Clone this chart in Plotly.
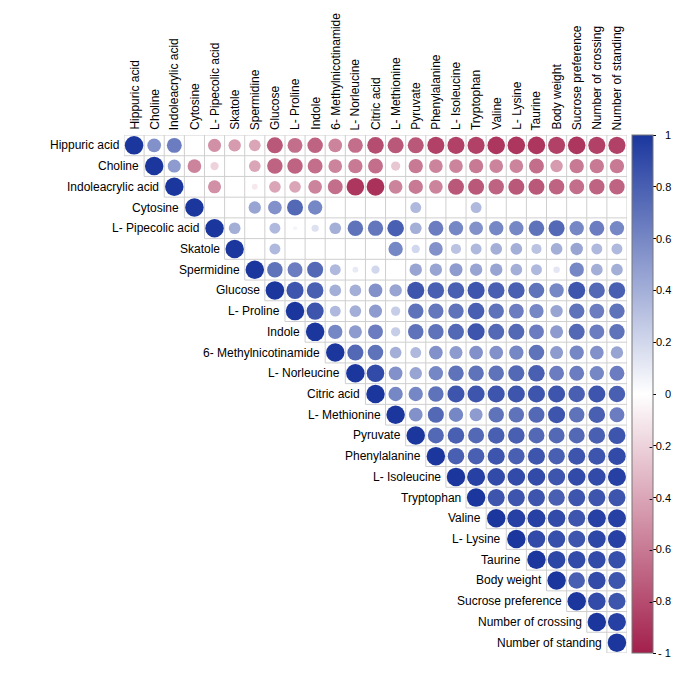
import plotly.graph_objects as go
import math

labels = ["Hippuric acid", "Choline", "Indoleacrylic acid", "Cytosine", "L- Pipecolic acid",
          "Skatole", "Spermidine", "Glucose", "L- Proline", "Indole",
          "6- Methylnicotinamide", "L- Norleucine", "Citric acid", "L- Methionine", "Pyruvate",
          "Phenylalanine", "L- Isoleucine", "Tryptophan", "Valine", "L- Lysine",
          "Taurine", "Body weight", "Sucrose preference", "Number of crossing", "Number of standing"]

N = None
# upper-triangle correlations, row i lists columns i..24 (None = not significant / blank)
r00 = [1, 0.55, 0.65, N, -0.5, -0.45, -0.4, -0.75, -0.65, -0.7, -0.55, -0.65, -0.8, -0.75, -0.75, -0.85, -0.85, -0.85, -0.9, -0.9, -0.9, -0.85, -0.9, -0.85, -0.85]
r01 = [1, 0.5, -0.55, -0.2, N, -0.4, -0.7, -0.7, -0.65, -0.55, -0.6, -0.65, -0.25, -0.6, -0.55, -0.55, -0.6, -0.55, -0.55, -0.65, -0.45, -0.6, -0.6, -0.6]
r02 = [1, N, -0.5, N, -0.1, -0.4, -0.4, -0.55, -0.65, -0.9, -0.92, -0.55, -0.6, -0.55, -0.75, -0.75, -0.7, -0.75, -0.75, -0.7, -0.65, -0.7, -0.7]
r03 = [1, N, N, 0.45, 0.55, 0.75, 0.6, N, N, N, N, 0.35, N, N, 0.35, N, N, N, N, N, N, N]
r04 = [1, 0.4, N, 0.35, 0.05, 0.15, 0.4, 0.7, 0.68, 0.8, 0.4, 0.65, 0.6, 0.55, 0.6, 0.6, 0.7, 0.75, 0.6, 0.65, 0.6]
r05 = [1, N, 0.35, N, N, N, N, N, 0.6, 0.2, 0.55, 0.3, 0.35, 0.4, 0.4, 0.3, 0.4, 0.45, 0.35, 0.35]
r06 = [1, 0.7, 0.65, 0.75, 0.35, 0.1, 0.2, N, 0.45, 0.45, 0.5, 0.45, 0.45, 0.4, 0.35, 0.12, 0.6, 0.4, 0.4]
r07 = [1, 0.85, 0.8, 0.4, 0.4, 0.55, 0.45, 0.85, 0.8, 0.8, 0.85, 0.8, 0.8, 0.7, 0.6, 0.85, 0.75, 0.8]
r08 = [1, 0.85, 0.35, 0.4, 0.5, 0.25, 0.7, 0.68, 0.7, 0.8, 0.7, 0.65, 0.6, 0.45, 0.7, 0.65, 0.7]
r09 = [1, 0.6, 0.5, 0.65, 0.25, 0.7, 0.7, 0.75, 0.85, 0.75, 0.75, 0.65, 0.5, 0.75, 0.65, 0.7]
r10 = [1, 0.75, 0.7, 0.4, 0.35, 0.55, 0.5, 0.55, 0.55, 0.6, 0.7, 0.5, 0.6, 0.55, 0.45]
r11 = [1, 0.9, 0.55, 0.45, 0.6, 0.7, 0.7, 0.7, 0.75, 0.8, 0.65, 0.65, 0.6, 0.65]
r12 = [1, 0.6, 0.6, 0.7, 0.85, 0.85, 0.85, 0.85, 0.85, 0.85, 0.8, 0.85, 0.8]
r13 = [1, 0.55, 0.75, 0.6, 0.5, 0.7, 0.7, 0.75, 0.85, 0.7, 0.8, 0.65]
r14 = [1, 0.75, 0.8, 0.75, 0.8, 0.8, 0.75, 0.75, 0.75, 0.8, 0.85]
r15 = [1, 0.8, 0.8, 0.85, 0.8, 0.85, 0.8, 0.85, 0.85, 0.9]
r16 = [1, 0.95, 0.9, 0.9, 0.9, 0.85, 0.9, 0.9, 0.95]
r17 = [1, 0.85, 0.85, 0.85, 0.8, 0.85, 0.85, 0.85]
r18 = [1, 0.95, 0.95, 0.9, 0.85, 0.95, 0.95]
r19 = [1, 0.9, 0.88, 0.85, 0.92, 0.95]
r20 = [1, 0.92, 0.9, 0.9, 0.88]
r21 = [1, 0.8, 0.9, 0.85]
r22 = [1, 0.9, 0.85]
r23 = [1, 0.95]
r24 = [1]

rows = [r00, r01, r02, r03, r04, r05, r06, r07, r08, r09, r10, r11, r12,
        r13, r14, r15, r16, r17, r18, r19, r20, r21, r22, r23, r24]

cbar_vals = [1, 0.8, 0.6, 0.4, 0.2, 0, -0.2, -0.4, -0.6, -0.8, -1]
cbar_text = ["1", "0.8", "0.6", "0.4", "0.2", "0", "- 0.2", "- 0.4", "- 0.6", "- 0.8", "- 1"]

n = len(labels)
FONT = "Liberation Sans, Arial, sans-serif"
colorscale = [[0.0, "#A3204C"], [0.5, "#FFFFFF"], [1.0, "#1B379E"]]

# cell grid (upper triangle staircase)
gx, gy = [], []
for k in range(n + 1):
    y = k - 0.5
    x0 = max(k - 1.5, -0.5) if k > 0 else -0.5
    if k == n:
        x0 = n - 1.5
    gx += [x0, n - 0.5, None]
    gy += [y, y, None]
for k in range(n + 1):
    x = k - 0.5
    y1 = min(k + 0.5, n - 0.5)
    gx += [x, x, None]
    gy += [-0.5, y1, None]

xs, ys, vs, ss = [], [], [], []
for i, row in enumerate(rows):
    for off, v in enumerate(row):
        if v is None:
            continue
        xs.append(i + off)
        ys.append(i)
        vs.append(v)
        ss.append(18.5 * math.sqrt(abs(v)))

fig = go.Figure()
fig.add_trace(go.Scatter(x=gx, y=gy, mode="lines", line=dict(color="#cfcfcf", width=1),
                         hoverinfo="skip", showlegend=False))
fig.add_trace(go.Scatter(
    x=xs, y=ys, mode="markers", showlegend=False,
    marker=dict(size=ss, color=vs, cmin=-1, cmax=1, colorscale=colorscale,
                opacity=1, line=dict(width=0),
                colorbar=dict(x=1.0099, xanchor="left", y=0.5, yanchor="middle",
                              len=1, lenmode="fraction", thickness=21, xpad=0, ypad=0,
                              outlinewidth=1, outlinecolor="#777777",
                              tickvals=cbar_vals, ticks="outside", ticklen=3,
                              tickcolor="#000000", showticklabels=False)),
))

ann = []
for i, lab in enumerate(labels):
    ann.append(dict(x=i - 0.5, y=i, xref="x", yref="y", text=lab, showarrow=False,
                    xanchor="right", yanchor="middle", xshift=-3,
                    font=dict(family=FONT, size=12, color="#000000")))
    ann.append(dict(x=i, y=-0.5, xref="x", yref="y", text=lab, showarrow=False,
                    textangle=-90, xanchor="center", yanchor="bottom", yshift=3,
                    font=dict(family=FONT, size=12, color="#000000")))
for v, t in zip(cbar_vals, cbar_text):
    ann.append(dict(x=1.0915, y=(v + 1) / 2, xref="paper", yref="paper", text=t,
                    showarrow=False, xanchor="right", yanchor="middle",
                    font=dict(family=FONT, size=11, color="#000000")))

fig.update_layout(
    width=677, height=672,
    margin=dict(l=116, r=58, t=127, b=27),
    paper_bgcolor="white", plot_bgcolor="white",
    xaxis=dict(range=[-0.5, n - 0.5], showgrid=False, zeroline=False,
               showticklabels=False, ticks="", fixedrange=True),
    yaxis=dict(range=[n - 0.5, -0.5], showgrid=False, zeroline=False,
               showticklabels=False, ticks="", fixedrange=True),
    annotations=ann,
)

fig.write_html("out.html")
